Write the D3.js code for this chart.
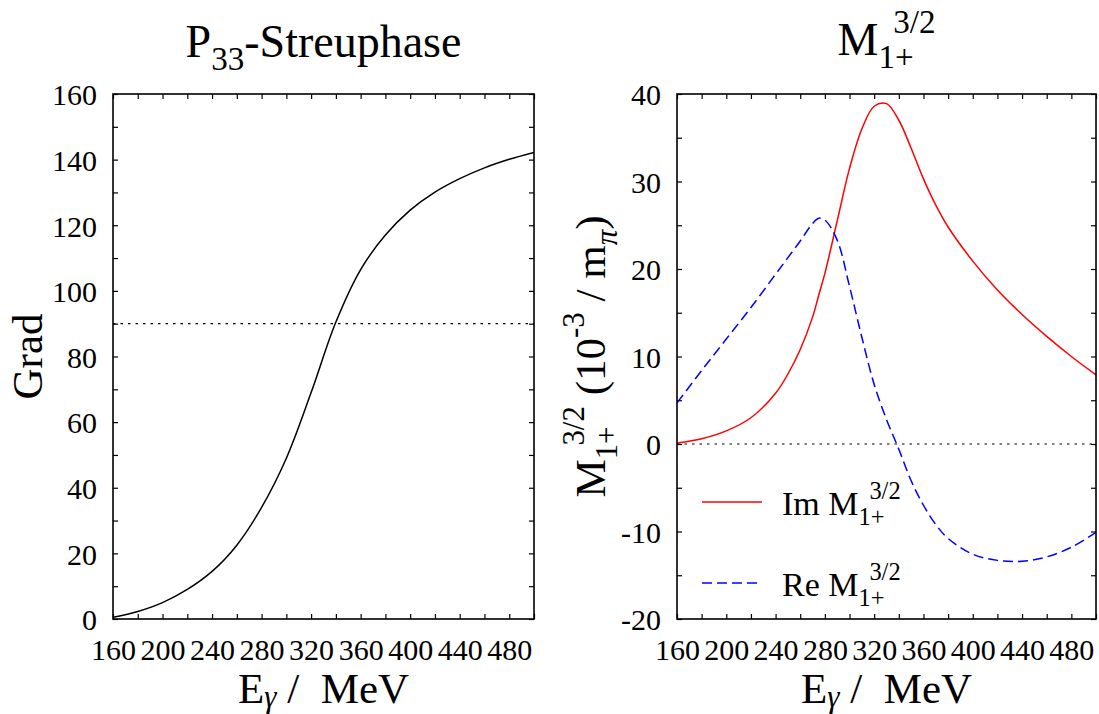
<!DOCTYPE html>
<html><head><meta charset="utf-8">
<script src="https://cdn.jsdelivr.net/npm/d3@7"></script>
<style>
html,body{margin:0;padding:0;background:#fff;}
text{font-family:"Liberation Serif","Times New Roman",serif;fill:#000;}
</style></head>
<body>
<svg id="chart" width="1099" height="714"></svg>
<script>
// ---------- data ----------
const phaseEnergy = [160,180,200,220,240,260,280,300,320,340,360,380,400,420,440,460,480,500];
const phaseDeg    = [0.5,2.3,5,9,14.5,22.5,34,49,69,90.5,106.5,117,124.6,130.1,134.2,137.5,140.1,142.2];
const phaseRef = 90;

const multEnergy = [160,180,200,220,240,250,260,270,275,280,290,300,310,320,330,340,350,360,370,380,400,420,440,460,480,500];
const imM1 = [0.1,0.6,1.5,3.0,5.8,8.0,10.8,14.5,17,19.5,25.5,31.5,36.0,38.6,38.9,37.0,33.8,30.3,27.3,24.8,20.9,17.6,14.8,12.3,10.0,7.9];
const reM1 = [4.7,8.4,12.0,15.6,19.4,21.3,23.2,25.2,25.8,25.6,23.3,18.0,12.2,6.8,2.8,-0.6,-4.2,-7.0,-9.2,-10.8,-12.6,-13.3,-13.4,-12.9,-11.8,-10.1];

const xTickLabels = [160,200,240,280,320,360,400,440,480];
const xMinorTicks = [160,180,200,220,240,260,280,300,320,340,360,380,400,420,440,460,480,500];
const yLeftLabels = [0,20,40,60,80,100,120,140,160];
const yLeftTicks = d3.range(0,161,10);
const yRightLabels = [-20,-10,0,10,20,30,40];
const yRightTicks = d3.range(-20,41,5);
const legendLabels = ["Im", "Re"];

// ---------- layout ----------
const svg = d3.select("#chart");
const P1 = {x0:113, x1:534, y0:94, y1:619};
const P2 = {x0:677, x1:1096, y0:94, y1:619};
const TICK = 30, AX = 43, TITLE = 46, LEG = 34;
const NB = "\u00a0";

function rich(parent, x, y, parts, size, anchor, rotate){
  const grp = parent.append("g").attr("transform", `translate(${x},${y})` + (rotate ? " rotate(-90)" : ""));
  const inner = grp.append("g");
  let cx = 0, subStart = 0;
  parts.forEach(p => {
    const s = p.s || "n";
    const fs = s === "n" ? size : size * 0.72;
    const dy = p.dy !== undefined ? p.dy * size : (s === "sub" ? size * 0.28 : s === "sup" ? -size * 0.48 : 0);
    let xx = cx + (p.dx || 0) * size;
    if (s === "sup" && p.over !== undefined) xx = subStart + p.over * size;
    const t = inner.append("text").attr("x", xx).attr("y", dy).attr("font-size", fs).text(p.t);
    if (p.italic) t.attr("font-style", "italic");
    const w = t.node().getComputedTextLength();
    if (s === "sub") subStart = xx;
    cx = Math.max(cx, xx + w);
  });
  let shift = 0;
  if (anchor === "middle") shift = -cx / 2;
  else if (anchor === "end") shift = -cx;
  inner.attr("transform", `translate(${shift},0)`);
  return grp;
}

function panel(P, xDom, yDom, xTicks, yTicks, yLabels){
  const g = svg.append("g");
  const x = d3.scaleLinear().domain(xDom).range([P.x0, P.x1]);
  const y = d3.scaleLinear().domain(yDom).range([P.y1, P.y0]);
  const T = 5;
  const styleAxis = a => { a.select(".domain").remove(); a.selectAll("line").attr("stroke","#000").attr("stroke-width",1.2); a.selectAll("text").remove(); };
  g.append("g").attr("transform",`translate(0,${P.y1})`).call(d3.axisBottom(x).tickValues(xTicks).tickSize(-T)).call(styleAxis);
  g.append("g").attr("transform",`translate(0,${P.y0})`).call(d3.axisTop(x).tickValues(xTicks).tickSize(-T)).call(styleAxis);
  g.append("g").attr("transform",`translate(${P.x0},0)`).call(d3.axisLeft(y).tickValues(yTicks).tickSize(-T)).call(styleAxis);
  g.append("g").attr("transform",`translate(${P.x1},0)`).call(d3.axisRight(y).tickValues(yTicks).tickSize(-T)).call(styleAxis);
  const fmt = d => String(d);
  const xl = g.append("g").attr("transform",`translate(0,${P.y1})`).call(d3.axisBottom(x).tickValues(xTickLabels).tickSize(0).tickFormat(fmt));
  xl.select(".domain").remove();
  xl.attr("font-family", null);
  xl.selectAll("text").attr("y", 41).attr("dy", null).attr("font-size", TICK).attr("fill","#000");
  const yl = g.append("g").attr("transform",`translate(${P.x0},0)`).call(d3.axisLeft(y).tickValues(yLabels).tickSize(0).tickFormat(fmt));
  yl.select(".domain").remove();
  yl.attr("font-family", null);
  yl.selectAll("text").attr("x", -16).attr("dy", "0.36em").attr("font-size", TICK).attr("fill","#000");
  const id = "clip" + Math.round(P.x0);
  svg.append("clipPath").attr("id", id).append("rect").attr("x",P.x0).attr("y",P.y0).attr("width",P.x1-P.x0).attr("height",P.y1-P.y0);
  const plot = g.append("g").attr("clip-path",`url(#${id})`);
  return {g, x, y, plot, P};
}

const line = (xs, ys, sx, sy) => d3.line().curve(d3.curveCatmullRom.alpha(0.5)).x((d,i)=>sx(xs[i])).y(d=>sy(d))(ys);

// ---------- left panel ----------
const L = panel(P1, [160,500], [0,160], xMinorTicks, yLeftTicks, yLeftLabels);
L.plot.append("line").attr("x1",P1.x0).attr("x2",P1.x1).attr("y1",L.y(phaseRef)).attr("y2",L.y(phaseRef))
  .attr("stroke","#000").attr("stroke-width",1.2).attr("stroke-dasharray","2.5,5");
L.plot.append("path").attr("d", line(phaseEnergy, phaseDeg, L.x, L.y)).attr("fill","none").attr("stroke","#000").attr("stroke-width",1.5);
L.g.append("rect").attr("x",P1.x0).attr("y",P1.y0).attr("width",P1.x1-P1.x0).attr("height",P1.y1-P1.y0).attr("fill","none").attr("stroke","#000").attr("stroke-width",1.6);

// ---------- right panel ----------
const R = panel(P2, [160,500], [-20,40], xMinorTicks, yRightTicks, yRightLabels);
R.plot.append("line").attr("x1",P2.x0).attr("x2",P2.x1).attr("y1",R.y(0)).attr("y2",R.y(0))
  .attr("stroke","#000").attr("stroke-width",1.2).attr("stroke-dasharray","2.5,5");
R.plot.append("path").attr("d", line(multEnergy, imM1, R.x, R.y)).attr("fill","none").attr("stroke","#ff0000").attr("stroke-width",1.5);
R.plot.append("path").attr("d", line(multEnergy, reM1, R.x, R.y)).attr("fill","none").attr("stroke","#0000ff").attr("stroke-width",1.5).attr("stroke-dasharray","10,5");
R.g.append("rect").attr("x",P2.x0).attr("y",P2.y0).attr("width",P2.x1-P2.x0).attr("height",P2.y1-P2.y0).attr("fill","none").attr("stroke","#000").attr("stroke-width",1.6);

// ---------- legend ----------
const legColors = ["#ff0000","#0000ff"], legDash = [null,"10,5"], legY = [502,583];
legendLabels.forEach((lab,i)=>{
  const l = svg.append("line").attr("x1",702).attr("x2",762).attr("y1",legY[i]).attr("y2",legY[i]).attr("stroke",legColors[i]).attr("stroke-width",1.5);
  if (legDash[i]) l.attr("stroke-dasharray", legDash[i]);
  rich(svg, 782, legY[i]+13, [{t:lab+NB+"M"},{t:"1+",s:"sub"},{t:"3/2",s:"sup",over:0.32}], LEG, "start");
});

// ---------- titles & axis titles ----------
rich(svg, (P1.x0+P1.x1)/2, 57, [{t:"P"},{t:"33",s:"sub"},{t:"-Streuphase"}], TITLE, "middle");
rich(svg, (P2.x0+P2.x1)/2, 55, [{t:"M"},{t:"1+",s:"sub"},{t:"3/2",s:"sup",over:0.32}], TITLE, "middle");
const eParts = [{t:"E"},{t:"γ",s:"sub",italic:true,dy:0.1},{t:NB+"/"+NB+NB+"MeV"}];
rich(svg, (P1.x0+P1.x1)/2, 703, eParts, AX, "middle");
rich(svg, (P2.x0+P2.x1)/2, 703, eParts, AX, "middle");
rich(svg, 42, (P1.y0+P1.y1)/2, [{t:"Grad"}], AX, "middle", true);
rich(svg, 605, (P2.y0+P2.y1)/2, [{t:"M"},{t:"1+",s:"sub"},{t:"3/2",s:"sup",over:0.32},{t:NB+"(10"},{t:"-3",s:"sup"},{t:NB+"/"+NB+"m"},{t:"π",s:"sub",italic:true},{t:")"}], AX, "middle", true);
</script>
</body></html>
